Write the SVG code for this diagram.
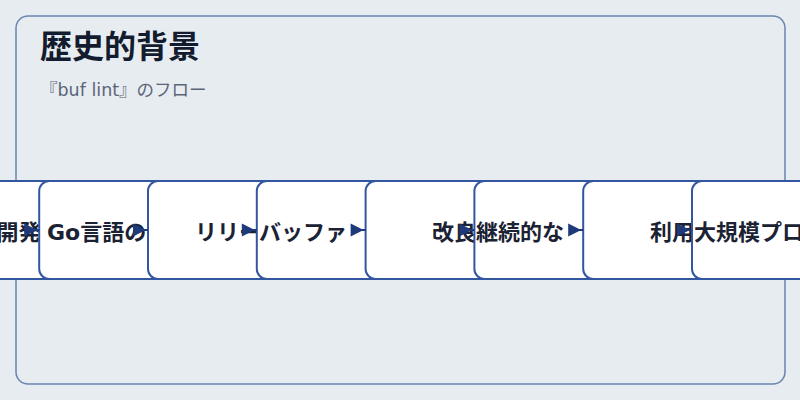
<svg xmlns="http://www.w3.org/2000/svg" width="800" height="400" viewBox="0 0 800 400">
  <defs>
    <marker id="arr" markerUnits="userSpaceOnUse" markerWidth="14" markerHeight="14" refX="15" refY="6.5" orient="auto" overflow="visible">
      <path d="M0,0 L13,6.5 L0,13 z" fill="#1f3a7a"/>
    </marker>
    <style>
      .node rect { fill: #ffffff; stroke: #3456a0; stroke-width: 2; }
      .node text { font-family: "DejaVu Sans", "Noto Sans CJK JP", sans-serif; font-size: 22px; font-weight: 700; fill: #1a2233; }
      .conn line { stroke: #1f3a7a; stroke-width: 2; marker-end: url(#arr); }
    </style>
  </defs>
  <rect x="0" y="0" width="800" height="400" fill="#e7ecf1"/>
  <rect x="16" y="16" width="769" height="368" rx="12" fill="#e7ecf1" stroke="#6b83b0" stroke-width="1.5"/>
  <text x="40" y="58" font-family="DejaVu Sans, Noto Sans CJK JP, sans-serif" font-size="32" font-weight="700" fill="#131c2e">歴史的背景</text>
  <text x="40" y="96" font-family="DejaVu Sans, Noto Sans CJK JP, sans-serif" font-size="17.5" fill="#5b6578">『buf lint』のフロー</text>

  <g id="node0" class="node"><rect x="-69.6" y="181" width="176" height="98" rx="10"/><text x="18.4" y="240" text-anchor="middle">開発</text></g>
  <g id="node1" class="node"><rect x="39.2" y="181" width="176" height="98" rx="10"/><text x="47" y="240">Go言語の</text></g>
  <g id="node2" class="node"><rect x="148" y="181" width="176" height="98" rx="10"/><text x="195" y="240">リリー</text></g>
  <g id="node3" class="node"><rect x="256.8" y="181" width="176" height="98" rx="10"/><text x="259" y="240">バッファ</text></g>
  <g id="node4" class="node"><rect x="365.6" y="181" width="176" height="98" rx="10"/><text x="432" y="240">改良</text></g>
  <g id="node5" class="node"><rect x="474.4" y="181" width="176" height="98" rx="10"/><text x="476" y="240">継続的な</text></g>
  <g id="node6" class="node"><rect x="583.2" y="181" width="176" height="98" rx="10"/><text x="650" y="240">利用</text></g>
  <g id="node7" class="node"><rect x="692" y="181" width="176" height="98" rx="10"/><text x="694" y="240">大規模プロ</text></g>

  <g id="connectors" class="conn">
    <line x1="25.2" y1="230" x2="39.2" y2="230"/>
    <line x1="134" y1="230" x2="148" y2="230"/>
    <line x1="242.8" y1="230" x2="256.8" y2="230"/>
    <line x1="351.6" y1="230" x2="365.6" y2="230"/>
    <line x1="460.4" y1="230" x2="474.4" y2="230"/>
    <line x1="569.2" y1="230" x2="583.2" y2="230"/>
    <line x1="678" y1="230" x2="692" y2="230"/>
  </g>
</svg>
